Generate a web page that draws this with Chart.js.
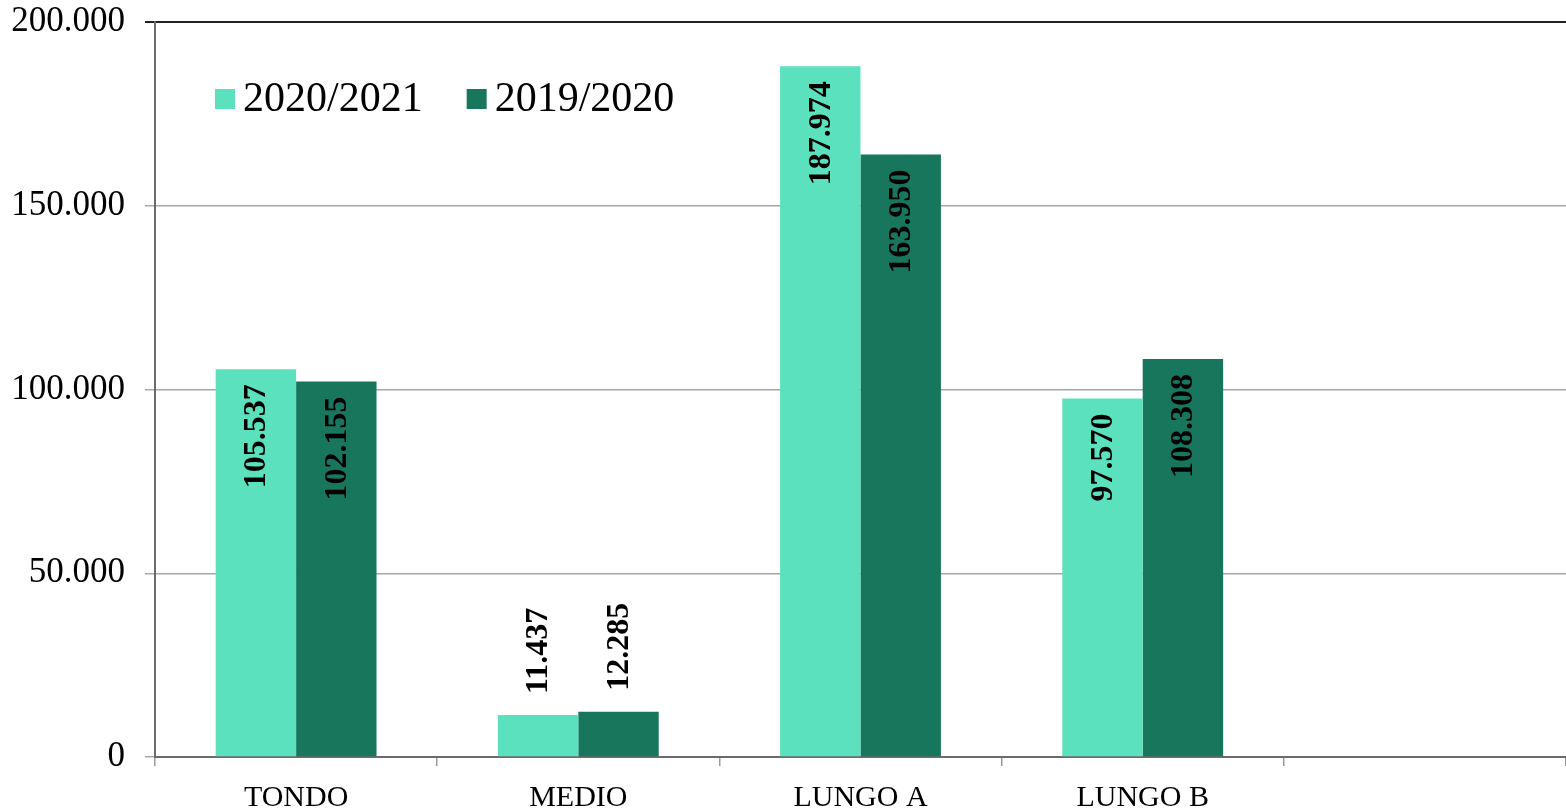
<!DOCTYPE html>
<html>
<head>
<meta charset="utf-8">
<title>Confronto 2020/2021 - 2019/2020</title>
<script src="https://cdn.jsdelivr.net/npm/chart.js@4.4.1/dist/chart.umd.min.js"></script>
<style>
  html, body { margin: 0; padding: 0; background: #fff; }
  canvas { display: block; }
</style>
</head>
<body>
<canvas id="chart" width="1566" height="812"></canvas>
<script>
const categories = ['TONDO', 'MEDIO', 'LUNGO A', 'LUNGO B', ''];
const seriesNames = ['2020/2021', '2019/2020'];
const values2021 = [105537, 11437, 187974, 97570, null];
const values2020 = [102155, 12285, 163950, 108308, null];
const yTicks = [0, 50000, 100000, 150000, 200000];

const colors = ['#5ce1be', '#18765c'];

// 200000 -> "200.000"
function fmt(v) {
    return String(v).replace(/\B(?=(\d{3})+(?!\d))/g, '.');
}

const valueLabels = {
    id: 'valueLabels',
    afterDatasetsDraw(chart) {
        const ctx = chart.ctx;
        ctx.save();
        ctx.font = 'bold 32px "Liberation Serif"';
        ctx.fillStyle = '#000';
        chart.data.datasets.forEach((ds, i) => {
            chart.getDatasetMeta(i).data.forEach((bar, j) => {
                const v = ds.data[j];
                if (v == null) return;
                const text = fmt(v);
                const w = ctx.measureText(text).width;
                const h = bar.base - bar.y;
                ctx.save();
                ctx.translate(bar.x, bar.y);
                ctx.rotate(-Math.PI / 2);
                ctx.textBaseline = 'middle';
                if (h > w + 30) {
                    ctx.textAlign = 'right';
                    ctx.fillText(text, -15, 1);
                } else {
                    ctx.textAlign = 'left';
                    ctx.fillText(text, 21, 1);
                }
                ctx.restore();
            });
        });
        ctx.restore();
    }
};

// legend sits inside the plot, top left
const insideLegend = {
    id: 'insideLegend',
    afterDraw(chart) {
        const ctx = chart.ctx;
        ctx.save();
        ctx.font = '42px "Liberation Serif"';
        ctx.textBaseline = 'middle';
        ctx.textAlign = 'left';
        let x = chart.chartArea.left + 60;
        const y = 99;
        chart.data.datasets.forEach((ds) => {
            ctx.fillStyle = ds.backgroundColor;
            ctx.fillRect(x, y - 10, 20, 20);
            ctx.fillStyle = '#000';
            ctx.fillText(ds.label, x + 28, y + 1);
            x += 28 + ctx.measureText(ds.label).width + 44;
        });
        ctx.restore();
    }
};

const ctx = document.getElementById('chart').getContext('2d');
const myChart = new Chart(ctx, {
    type: 'bar',
    data: {
        labels: categories,
        datasets: [{
            label: seriesNames[0],
            data: values2021,
            backgroundColor: colors[0],
            borderWidth: 0
        }, {
            label: seriesNames[1],
            data: values2020,
            backgroundColor: colors[1],
            borderWidth: 0
        }]
    },
    options: {
        responsive: false,
        animation: false,
        datasets: {
            bar: {
                categoryPercentage: 0.57,
                barPercentage: 1.0
            }
        },
        layout: {
            padding: { top: 22, right: 0, left: 0, bottom: 0 }
        },
        plugins: {
            legend: { display: false },
            tooltip: { enabled: false }
        },
        scales: {
            x: {
                grid: {
                    offset: true,
                    drawOnChartArea: false,
                    tickLength: 9,
                    color: '#9a9a9a',
                    lineWidth: 1.5
                },
                border: { color: '#6b6b6b', width: 2 },
                ticks: {
                    font: { family: 'Liberation Serif', size: 30 },
                    color: '#000',
                    padding: 14,
                    maxRotation: 0,
                    autoSkip: false
                },
                afterFit(scale) {
                    scale.height = 55;
                    scale.paddingLeft = 0;
                    scale.paddingRight = 0;
                }
            },
            y: {
                min: 0,
                max: 200000,
                afterBuildTicks(scale) {
                    scale.ticks = yTicks.map(v => ({ value: v }));
                },
                ticks: {
                    callback: (v) => fmt(v),
                    font: { family: 'Liberation Serif', size: 35 },
                    color: '#000',
                    padding: 20
                },
                grid: {
                    color: (c) => c.tick && c.tick.value === 200000 ? '#222' : '#a6a6a6',
                    lineWidth: (c) => c.tick && c.tick.value === 200000 ? 2 : 1.5,
                    tickLength: 10
                },
                border: { color: '#6b6b6b', width: 2 },
                afterFit(scale) {
                    scale.width = 155;
                    scale.paddingTop = 0;
                    scale.paddingBottom = 0;
                }
            }
        }
    },
    plugins: [valueLabels, insideLegend]
});
</script>
</body>
</html>
